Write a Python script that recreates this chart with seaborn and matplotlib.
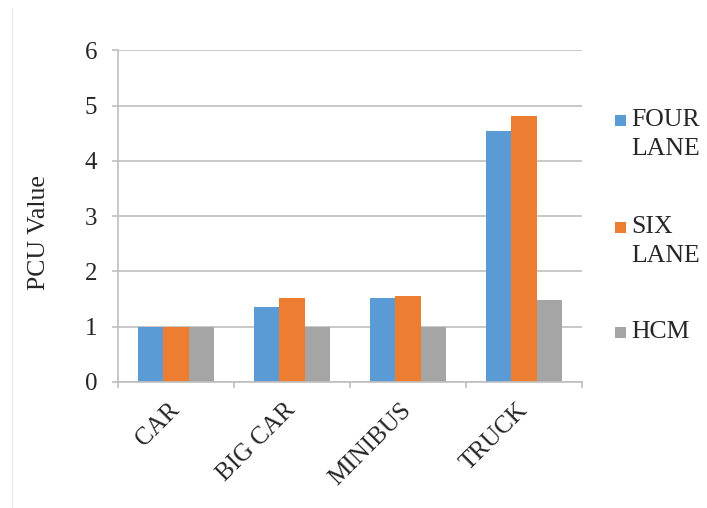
import matplotlib
matplotlib.use("Agg")
import matplotlib.pyplot as plt
from matplotlib.patches import Rectangle
from matplotlib.lines import Line2D
import seaborn as sns
import pandas as pd

categories = ["CAR", "BIG CAR", "MINIBUS", "TRUCK"]
series_names = ["FOUR LANE", "SIX LANE", "HCM"]
four_lane = [1.0, 1.36, 1.51, 4.55]
six_lane = [1.0, 1.51, 1.55, 4.82]
hcm = [1.0, 1.0, 1.0, 1.48]
y_ticks = [0, 1, 2, 3, 4, 5, 6]
colors = ["#5B9BD5", "#ED7D31", "#A5A5A5"]

rows = []
for name, vals in zip(series_names, [four_lane, six_lane, hcm]):
    for c, v in zip(categories, vals):
        rows.append({"Vehicle": c, "Series": name, "PCU": v})
df = pd.DataFrame(rows)

sns.set_theme(style="white")
plt.rcParams["font.family"] = ["Liberation Serif", "DejaVu Serif"]
text_color = "#262626"
grid_color = "#BFBFBF"

fig = plt.figure(figsize=(7.07, 5.08), dpi=100)
ax = fig.add_axes([118 / 707, 1 - 381.7 / 508, (582 - 118) / 707, (381.7 - 50.5) / 508])

sns.barplot(data=df, x="Vehicle", y="PCU", hue="Series", order=categories,
            hue_order=series_names, palette=colors, width=0.65, saturation=1,
            legend=False, linewidth=0, edgecolor="none", ax=ax)

ax.set_xlim(-0.5, len(categories) - 0.5)
ax.set_ylim(0, 6)
ax.set_yticks(y_ticks)
ax.set_yticklabels([str(t) for t in y_ticks], fontsize=18, color=text_color)
ax.yaxis.grid(True, color=grid_color, linewidth=1.2)
ax.set_axisbelow(True)

for s in ["top", "right"]:
    ax.spines[s].set_visible(False)
for s in ["left", "bottom"]:
    ax.spines[s].set_color(grid_color)
    ax.spines[s].set_linewidth(1.2)

ax.tick_params(axis="y", which="major", length=4.5, width=1.2, color=grid_color,
               pad=10.3, left=True)
ax.set_xticks(range(len(categories)))
ax.set_xticklabels(categories, fontsize=18, color=text_color, rotation=45,
                   ha="right", va="center", rotation_mode="anchor")
ax.tick_params(axis="x", which="major", length=0, pad=18)
ax.set_xticks([i - 0.5 for i in range(len(categories) + 1)], minor=True)
ax.tick_params(axis="x", which="minor", length=4, width=1.2, color=grid_color,
               bottom=True)

ax.set_xlabel("")
ax.set_ylabel("PCU Value", fontsize=18.5, color=text_color)
ax.yaxis.set_label_coords((50 - 118) / 464, (381.7 - 233) / 331.2)

# legend (Excel style: marker aligned with first line)
W, H = 707, 508
first_line_y = [120, 227, 332]
line_gap = 29
for name, col, y0 in zip(series_names, colors, first_line_y):
    fig.add_artist(Rectangle((615 / W, 1 - (y0 + 5.5) / H), 11 / W, 11 / H,
                             transform=fig.transFigure, facecolor=col,
                             edgecolor="none"))
    for i, word in enumerate(name.split(" ")):
        fig.text(631 / W, 1 - (y0 + i * line_gap) / H, word, fontsize=18.5,
                 color=text_color, ha="left", va="center")

# faint frame line on the left
fig.add_artist(Line2D([12 / W, 12 / W], [0, 1 - 8 / H], transform=fig.transFigure,
                      color="#EEEEEE", linewidth=1))

fig.savefig("out.png", dpi=100)
